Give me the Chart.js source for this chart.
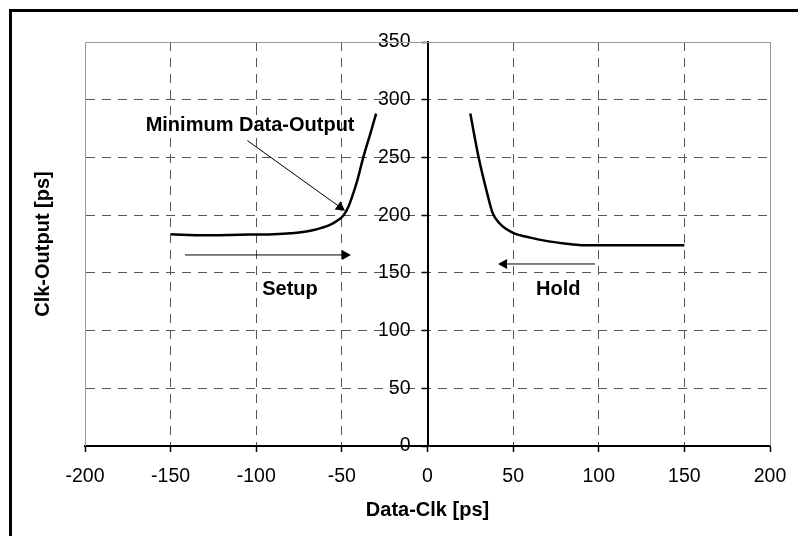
<!DOCTYPE html>
<html>
<head>
<meta charset="utf-8">
<script src="https://cdn.jsdelivr.net/npm/chart.js@4.4.0/dist/chart.umd.min.js"></script>
<style>
  html, body { margin: 0; padding: 0; background: #fff; }
  canvas { display: block; }
</style>
</head>
<body>
<canvas id="chart" width="798" height="536"></canvas>
<script>
// curves (ps)
const setupX = [-150, -130, -110, -90, -80, -70, -62, -57, -53, -49, -46, -44, -41, -37.5, -33.5, -30];
const setupY = [183.5, 182.5, 183, 183.5, 184.3, 186, 189, 191.5, 195, 200, 208, 216, 230, 250, 270, 288];

const holdX = [25, 30, 35, 38, 42, 46, 51, 60, 70, 80, 90, 100, 150];
const holdY = [288, 249, 218, 202, 193, 188, 184, 180.5, 177.5, 175.5, 174, 174, 174];

const xTickValues = [-200, -150, -100, -50, 0, 50, 100, 150, 200];
const yTickValues = [0, 50, 100, 150, 200, 250, 300, 350];

const xTitle = "Data-Clk [ps]";
const yTitle = "Clk-Output [ps]";

// annotation texts and arrows, in data units
const noteText = ["Minimum Data-Output", "Setup", "Hold"];
const noteX = [-103.6, -80.3, 76.4];
const noteY = [277.5, 136, 136];

const arrowFromX = [-105.2, -141.6, 97.8];
const arrowFromY = [264.6, 165.5, 157.7];
const arrowToX = [-48.2, -44.7, 41.2];
const arrowToY = [203.9, 165.5, 157.7];

// the y axis crosses at this x value
const yAxisAt = 0;

const FONT = "'Liberation Sans', Arial, sans-serif";

const toPoints = (xs, ys) => xs.map((x, i) => ({ x, y: ys[i] }));

const extras = {
    id: "extras",
    afterLayout(chart) {
        // move the (zero width) y axis over to x = 0; ticks and labels hang off its left side
        const ys = chart.scales.y;
        ys.right = chart.scales.x.getPixelForValue(yAxisAt);
        ys.left = chart.chartArea.left;
    },
    beforeDatasetsDraw(chart) {
        const { ctx, chartArea: a } = chart;
        // plot area outline (left, top, right)
        ctx.save();
        ctx.strokeStyle = "#999";
        ctx.lineWidth = 1;
        ctx.beginPath();
        ctx.moveTo(a.left + 0.5, a.bottom);
        ctx.lineTo(a.left + 0.5, a.top + 0.5);
        ctx.lineTo(a.right + 0.5, a.top + 0.5);
        ctx.lineTo(a.right + 0.5, a.bottom);
        ctx.stroke();
        ctx.restore();
    },
    afterDraw(chart) {
        const { ctx, chartArea: a } = chart;
        const xs = chart.scales.x, ys = chart.scales.y;

        ctx.save();
        // outer frame, only top and left show in the picture
        ctx.strokeStyle = "#000";
        ctx.lineWidth = 3;
        ctx.beginPath();
        ctx.moveTo(10.5, chart.height);
        ctx.lineTo(10.5, 10.5);
        ctx.lineTo(chart.width, 10.5);
        ctx.stroke();

        // y title
        ctx.fillStyle = "#000";
        ctx.font = "bold 20px " + FONT;
        ctx.textAlign = "center";
        ctx.textBaseline = "middle";
        ctx.translate(43, (a.top + a.bottom) / 2);
        ctx.rotate(-Math.PI / 2);
        ctx.fillText(yTitle, 0, 0);
        ctx.restore();

        // arrows
        ctx.save();
        ctx.strokeStyle = "#000";
        ctx.fillStyle = "#000";
        ctx.lineWidth = 1;
        for (let i = 0; i < arrowFromX.length; i++) {
            const x1 = xs.getPixelForValue(arrowFromX[i]);
            const y1 = ys.getPixelForValue(arrowFromY[i]);
            const x2 = xs.getPixelForValue(arrowToX[i]);
            const y2 = ys.getPixelForValue(arrowToY[i]);
            const ang = Math.atan2(y2 - y1, x2 - x1);
            const len = 9, half = 5;
            const bx = x2 - len * Math.cos(ang), by = y2 - len * Math.sin(ang);
            ctx.beginPath();
            ctx.moveTo(x1, y1);
            ctx.lineTo(bx, by);
            ctx.stroke();
            ctx.beginPath();
            ctx.moveTo(x2, y2);
            ctx.lineTo(bx + half * Math.sin(ang), by - half * Math.cos(ang));
            ctx.lineTo(bx - half * Math.sin(ang), by + half * Math.cos(ang));
            ctx.closePath();
            ctx.fill();
        }

        // notes
        ctx.font = "bold 20px " + FONT;
        ctx.textAlign = "center";
        ctx.textBaseline = "middle";
        for (let i = 0; i < noteText.length; i++) {
            ctx.fillText(noteText[i], xs.getPixelForValue(noteX[i]), ys.getPixelForValue(noteY[i]));
        }
        ctx.restore();
    }
};

new Chart(document.getElementById("chart"), {
    type: "scatter",
    data: {
        datasets: [{
            label: "Setup",
            data: toPoints(setupX, setupY),
            showLine: true,
            borderColor: "#000",
            borderWidth: 2.5,
            pointRadius: 0,
            cubicInterpolationMode: "monotone"
        }, {
            label: "Hold",
            data: toPoints(holdX, holdY),
            showLine: true,
            borderColor: "#000",
            borderWidth: 2.5,
            pointRadius: 0,
            cubicInterpolationMode: "monotone"
        }]
    },
    options: {
        responsive: false,
        animation: false,
        layout: { padding: { left: 85, right: 28, top: 42, bottom: 0 } },
        plugins: {
            legend: { display: false },
            tooltip: { enabled: false }
        },
        scales: {
            x: {
                type: "linear",
                position: "bottom",
                min: -200,
                max: 200,
                afterBuildTicks: s => { s.ticks = xTickValues.map(v => ({ value: v })); },
                afterFit: s => { s.height = 90; s.paddingLeft = 0; s.paddingRight = 0; },
                ticks: {
                    color: "#000",
                    font: { family: FONT, size: 19.5 },
                    padding: 13,
                    maxRotation: 0
                },
                grid: {
                    color: c => (c.tick && c.tick.value === -200) ? "rgba(0,0,0,0)" : "#555",
                    lineWidth: 1,
                    tickLength: 6,
                    tickColor: "#000",
                    tickWidth: 1.5
                },
                border: { color: "#000", width: 2, dash: [9, 7] },
                title: {
                    display: true,
                    text: xTitle,
                    color: "#000",
                    font: { family: FONT, size: 20, weight: "bold" },
                    padding: { top: 0, bottom: 14 }
                }
            },
            y: {
                type: "linear",
                position: "left",
                min: 0,
                max: 350,
                afterBuildTicks: s => { s.ticks = yTickValues.map(v => ({ value: v })); },
                afterFit: s => { s.width = 0; s.paddingTop = 0; s.paddingBottom = 0; },
                ticks: {
                    color: "#000",
                    font: { family: FONT, size: 19.5 },
                    padding: 11
                },
                grid: {
                    color: c => (c.tick && c.tick.value === 350) ? "rgba(0,0,0,0)" : "#555",
                    lineWidth: 1,
                    tickLength: 6,
                    tickColor: "#000",
                    tickWidth: 1.5
                },
                border: { color: "#000", width: 2, dash: [9, 7] }
            }
        }
    },
    plugins: [extras]
});
</script>
</body>
</html>
